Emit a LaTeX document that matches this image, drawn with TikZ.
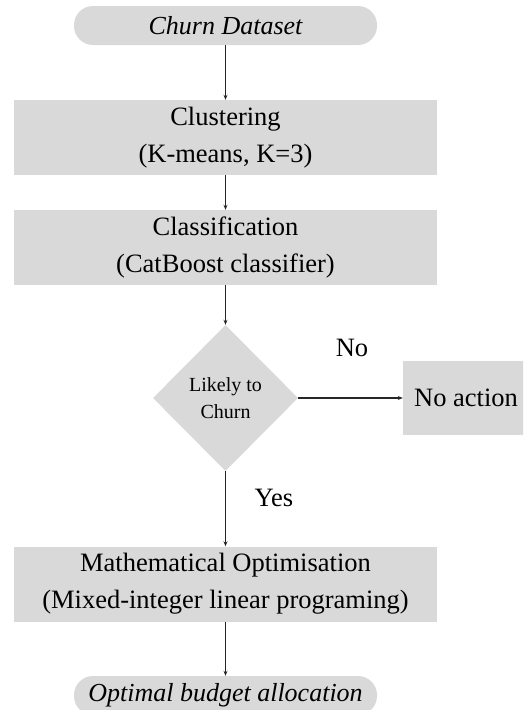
\documentclass[tikz,border=0pt]{standalone}
\usepackage{fontspec}
\setmainfont{Liberation Serif}
\usetikzlibrary{shapes.geometric,arrows.meta}
\definecolor{boxgray}{HTML}{D9D9D9}
\definecolor{linegray}{HTML}{262626}
\begin{document}
\begin{tikzpicture}[x=1pt,y=-1pt,
  procbox/.style={fill=boxgray, minimum width=423pt, minimum height=75pt, inner sep=0pt, align=center, font=\fontsize{26.5}{37}\selectfont},
  terminal/.style={fill=boxgray, rounded corners=19pt, minimum width=303pt, minimum height=39pt, inner sep=0pt, font=\fontsize{26}{30}\selectfont\itshape},
  decision/.style={fill=boxgray, shape=diamond, minimum width=145pt, minimum height=146pt, inner sep=0pt, align=center, font=\fontsize{20}{27}\selectfont},
  flow/.style={draw=linegray, line width=1.2pt, -{Stealth[length=5pt,width=4pt]}},
  lbl/.style={font=\fontsize{26.5}{30}\selectfont}]
\clip (0,0) rectangle (523,710);
\node[terminal] (data) at (225.5,25.5) {Churn Dataset};
\node[procbox] (clus) at (225.5,137.5) {Clustering\\(K-means, K=3)};
\node[procbox] (class) at (225.5,247.5) {Classification\\(CatBoost classifier)};
\node[decision] (dec) at (225.5,398) {Likely to\\Churn};
\node[procbox, minimum width=126pt, minimum height=74pt] (noact) at (466,398) {No action};
\node[procbox] (opt) at (225.5,584) {Mathematical Optimisation\\(Mixed-integer linear programing)};
\node[terminal] (alloc) at (225.5,695.5) {Optimal budget allocation};
\node[lbl] (no) at (352,348) {No};
\node[lbl] (yes) at (274,498) {Yes};
\draw[flow] (data) -- (clus);
\draw[flow] (clus) -- (class);
\draw[flow] (class) -- (dec);
\draw[flow] (dec) -- (noact);
\draw[flow] (dec) -- (opt);
\draw[flow] (opt) -- (alloc);
\end{tikzpicture}
\end{document}
